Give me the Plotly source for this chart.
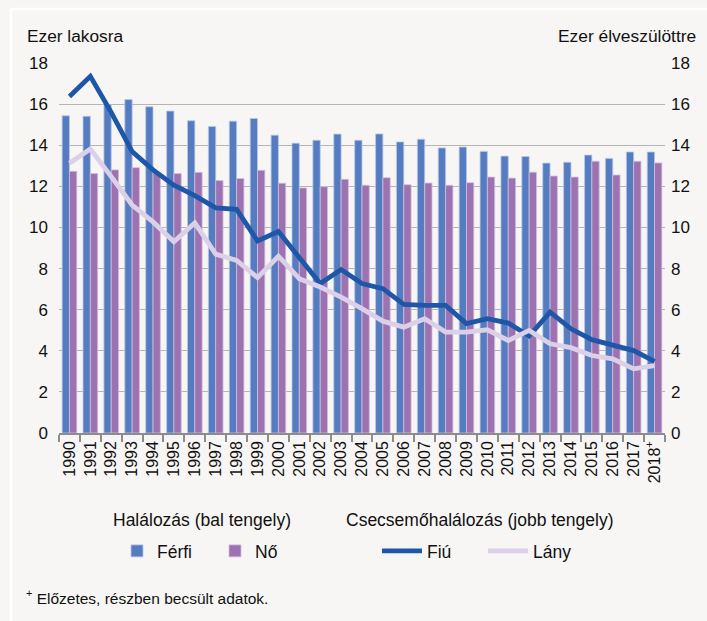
import plotly.graph_objects as go

years = [str(y) for y in range(1990, 2019)]
tick_labels = years[:-1] + ["2018<sup>+</sup>"]

ferfi = [15.43, 15.41, 15.98, 16.22, 15.87, 15.66, 15.19, 14.91, 15.17, 15.30,
         14.49, 14.10, 14.24, 14.54, 14.24, 14.55, 14.16, 14.29, 13.87, 13.91,
         13.70, 13.47, 13.45, 13.13, 13.17, 13.52, 13.36, 13.67, 13.67]
no = [12.73, 12.62, 12.80, 12.91, 12.67, 12.62, 12.68, 12.28, 12.38, 12.78,
      12.15, 11.92, 11.98, 12.34, 12.05, 12.42, 12.08, 12.16, 12.05, 12.18,
      12.45, 12.40, 12.69, 12.50, 12.45, 13.22, 12.55, 13.22, 13.14]
fiu = [16.37, 17.35, 15.60, 13.69, 12.80, 12.06, 11.55, 10.95, 10.88, 9.34,
       9.80, 8.57, 7.27, 7.95, 7.27, 7.02, 6.26, 6.21, 6.21, 5.32,
       5.56, 5.35, 4.72, 5.88, 5.07, 4.54, 4.29, 4.01, 3.48]
lany = [13.12, 13.82, 12.47, 11.09, 10.27, 9.30, 10.22, 8.70, 8.40, 7.56,
        8.60, 7.51, 7.10, 6.61, 6.05, 5.44, 5.15, 5.56, 4.91, 4.91,
        5.02, 4.50, 4.99, 4.34, 4.15, 3.77, 3.61, 3.12, 3.28]

y_ticks = [0, 2, 4, 6, 8, 10, 12, 14, 16, 18]

FONT = "Liberation Sans, Arial, sans-serif"
BG = "#f7f6f4"
W, H = 707, 621
L, R, T, B = 59, 665, 63, 433


def px(x):
    return (x - L) / (R - L)


def py(y):
    return (B - y) / (B - T)


fig = go.Figure()
fig.add_trace(go.Bar(x=years, y=ferfi, name="Férfi",
                     marker=dict(color="#557cc0", line=dict(color="#b9c8e6", width=0.8)),
                     legend="legend"))
fig.add_trace(go.Bar(x=years, y=no, name="Nő",
                     marker=dict(color="#9d72b0", line=dict(color="#d2bfdc", width=0.8)),
                     legend="legend"))
fig.add_trace(go.Scatter(x=years, y=fiu, name="Fiú", mode="lines", yaxis="y2",
                         line=dict(color="#1f57a8", width=4.8), legend="legend2"))
fig.add_trace(go.Scatter(x=years, y=lany, name="Lány", mode="lines", yaxis="y2",
                         line=dict(color="#dcd0e8", width=4.8), legend="legend2"))

fig.update_layout(
    width=W, height=H,
    margin=dict(l=L, r=W - R, t=T, b=H - B, pad=0, autoexpand=False),
    paper_bgcolor=BG, plot_bgcolor=BG,
    font=dict(family=FONT, size=17, color="#111111"),
    barmode="group", bargap=0.30, bargroupgap=0,
    xaxis=dict(type="category", tickvals=years, ticktext=tick_labels, tickangle=-90,
               showgrid=False, ticks="outside", tickson="boundaries", ticklen=7,
               tickcolor="#8c8c8c", tickwidth=1.5, showline=True, linecolor="#8c8c8c",
               linewidth=1.5, tickfont=dict(size=16), range=[-0.5, 28.5], automargin=False),
    yaxis=dict(range=[0, 18], tickvals=y_ticks, showgrid=True, gridcolor="#b5b5b5",
               gridwidth=1, zeroline=False, showline=False, ticks="",
               ticklabelstandoff=10, tickfont=dict(size=17), automargin=False),
    yaxis2=dict(range=[0, 18], tickvals=y_ticks, overlaying="y", side="right",
                showgrid=False, zeroline=False, showline=False, ticks="",
                ticklabelstandoff=5, tickfont=dict(size=17), automargin=False),
    legend=dict(orientation="h", x=px(117), xanchor="left", y=py(551), yanchor="middle",
                font=dict(size=17.5), entrywidth=53, bgcolor="rgba(0,0,0,0)",
                traceorder="normal"),
    legend2=dict(orientation="h", x=px(377), xanchor="left", y=py(551), yanchor="middle",
                 font=dict(size=17.5), entrywidth=51, itemwidth=40, bgcolor="rgba(0,0,0,0)",
                 traceorder="normal"),
    showlegend=True,
    shapes=[
        dict(type="line", xref="paper", yref="paper", x0=px(11), x1=px(707), y0=py(9), y1=py(9),
             line=dict(color="white", width=2.5), layer="below"),
        dict(type="line", xref="paper", yref="paper", x0=px(11), x1=px(11), y0=py(9), y1=py(621),
             line=dict(color="white", width=2.5), layer="below"),
    ],
    annotations=[
        dict(text="Ezer lakosra", xref="paper", yref="paper", x=px(25), y=py(36),
             xanchor="left", yanchor="middle", showarrow=False, font=dict(size=17.3)),
        dict(text="Ezer élveszülöttre", xref="paper", yref="paper", x=px(698), y=py(36),
             xanchor="right", yanchor="middle", showarrow=False, font=dict(size=17.4)),
        dict(text="Halálozás (bal tengely)", xref="paper", yref="paper", x=px(202), y=py(520),
             xanchor="center", yanchor="middle", showarrow=False, font=dict(size=17.5)),
        dict(text="Csecsemőhalálozás (jobb tengely)", xref="paper", yref="paper", x=px(480),
             y=py(520), xanchor="center", yanchor="middle", showarrow=False,
             font=dict(size=17.5)),
        dict(text="<sup>+</sup> Előzetes, részben becsült adatok.", xref="paper", yref="paper",
             x=px(24), y=py(597), xanchor="left", yanchor="middle", showarrow=False,
             font=dict(size=15.5)),
    ],
)

fig.write_html("out.html", config={"displayModeBar": False},
               post_script="document.body.style.margin='0';document.body.style.overflow='hidden';")
